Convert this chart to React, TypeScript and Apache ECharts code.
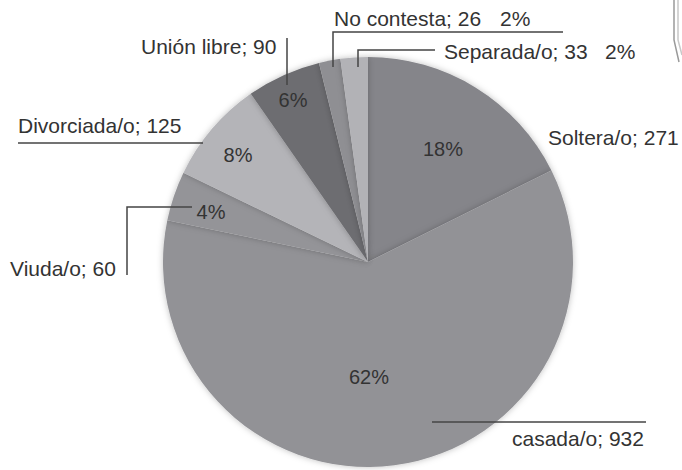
import React, { useEffect, useRef } from "react";
import * as echarts from "echarts";

// ---- data ----
const categories = ["Soltera/o", "casada/o", "Viuda/o", "Divorciada/o", "Unión libre", "No contesta", "Separada/o"];
const counts = [271, 932, 60, 125, 90, 26, 33];
const percentLabels = ["18%", "62%", "4%", "8%", "6%", "2%", "2%"];

// ---- styling / layout ----
const sliceColors = ["#85858a", "#929296", "#949498", "#b4b4b8", "#6d6d71", "#8f8f93", "#b2b2b6"];
const CX = 368;
const CY = 262;
const R = 205;
// inside percent label positions (null = shown with outer label)
const innerPos: (number[] | null)[] = [[443, 149], [369, 377], [211, 212], [238, 155], [293, 100], null, null];
// outer name labels: [x(left), y(middle)]
const outerPos = [[548, 137], [512, 438], [10, 268], [18, 125], [141, 46], [334, 18], [444, 51]];
// outer percent labels for small slices
const outerPctPos: (number[] | null)[] = [null, null, null, null, null, [500, 18], [605, 51]];
const leaderLines = [
  null,
  [[432, 422], [646, 422]],
  [[192, 207], [127, 207], [127, 275]],
  [[18, 143], [203, 143]],
  [[287, 38], [287, 85]],
  [[563, 32], [333, 32], [333, 67]],
  [[435, 50], [358, 50], [358, 67]],
];

const FONT = "'Liberation Sans', Arial, sans-serif";
const TXT = "#333333";
const FS = 21;

export default function App() {
  const ref = useRef<HTMLDivElement>(null);
  useEffect(() => {
    if (!ref.current) return;
    const chart = echarts.init(ref.current, null, { renderer: "svg" });
    const graphics: any[] = [];
    leaderLines.forEach((pts) => {
      if (!pts) return;
      graphics.push({
        type: "polyline",
        shape: { points: pts },
        style: { stroke: "#444", lineWidth: 1.5, fill: null },
        z: 10,
      });
    });
    categories.forEach((name, i) => {
      graphics.push({
        type: "text",
        x: outerPos[i][0],
        y: outerPos[i][1],
        style: {
          text: `${name}; ${counts[i]}`,
          fill: TXT,
          font: `${FS}px ${FONT}`,
          textAlign: "left",
          textVerticalAlign: "middle",
        },
        z: 10,
      });
      const pp = outerPctPos[i];
      if (pp) {
        graphics.push({
          type: "text",
          x: pp[0],
          y: pp[1],
          style: {
            text: percentLabels[i],
            fill: TXT,
            font: `${FS}px ${FONT}`,
            textAlign: "left",
            textVerticalAlign: "middle",
          },
          z: 10,
        });
      }
    });
    // decorative border fragment at top-right
    graphics.push({
      type: "polyline",
      shape: { points: [[674, 0], [674, 40], [679, 62]] },
      style: { stroke: "#9a9a9a", lineWidth: 1.5, fill: null },
    });
    graphics.push({
      type: "polyline",
      shape: { points: [[678, 0], [678, 40], [682, 55]] },
      style: { stroke: "#c8c8c8", lineWidth: 1.5, fill: null },
    });

    chart.setOption({
      animation: false,
      backgroundColor: "#ffffff",
      series: [
        {
          type: "pie",
          center: [CX, CY],
          radius: [0, R],
          startAngle: 90,
          clockwise: true,
          avoidLabelOverlap: false,
          data: categories.map((name, i) => ({
            name,
            value: counts[i],
            itemStyle: { color: sliceColors[i] },
            label: { show: innerPos[i] !== null },
          })),
          itemStyle: {
            borderWidth: 0,
            shadowBlur: 6,
            shadowColor: "rgba(0,0,0,0.25)",
          },
          label: {
            position: "inside",
            formatter: (p: any) => percentLabels[p.dataIndex],
            color: TXT,
            fontSize: FS - 1,
            fontFamily: FONT,
          },
          labelLine: { show: false },
          labelLayout: (p: any) => {
            const pos = innerPos[p.dataIndex];
            if (!pos) return {};
            return { x: pos[0], y: pos[1], align: "center", verticalAlign: "middle" };
          },
          emphasis: { disabled: true },
        },
      ],
      graphic: graphics,
    });
    return () => chart.dispose();
  }, []);
  return (
    <div
      ref={ref}
      style={{ position: "fixed", left: 0, top: 0, width: 682, height: 470, background: "#fff" }}
    />
  );
}
